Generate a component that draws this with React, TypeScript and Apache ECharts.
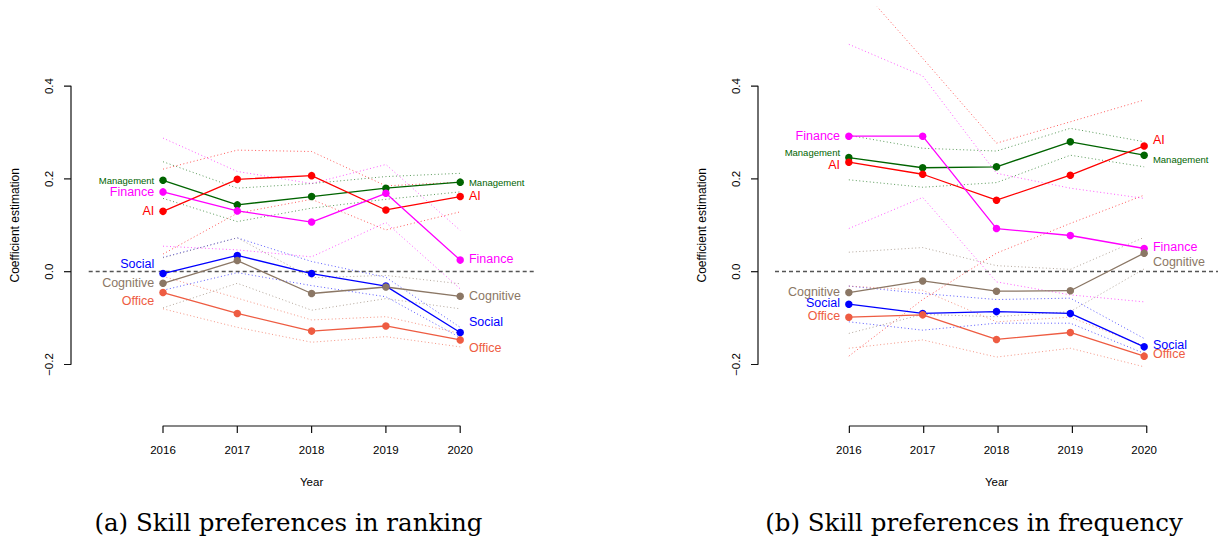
import React, { useEffect, useRef } from "react";
import * as echarts from "echarts";

// ---------------- data ----------------
const years = [2016, 2017, 2018, 2019, 2020];
const yTickValues = [-0.2, 0, 0.2, 0.4];
const skills = ["Management", "AI", "Finance", "Social", "Cognitive", "Office"];

// (a) ranking: estimate, lower, upper
const rankManagement = [0.197, 0.144, 0.162, 0.18, 0.193];
const rankManagementLo = [0.158, 0.108, 0.137, 0.156, 0.172];
const rankManagementHi = [0.237, 0.18, 0.19, 0.205, 0.212];
const rankAI = [0.13, 0.199, 0.207, 0.133, 0.162];
const rankAILo = [0.038, 0.126, 0.156, 0.09, 0.129];
const rankAIHi = [0.221, 0.262, 0.259, 0.185, 0.193];
const rankFinance = [0.172, 0.131, 0.107, 0.169, 0.025];
const rankFinanceLo = [0.055, 0.047, 0.032, 0.106, -0.037];
const rankFinanceHi = [0.288, 0.216, 0.19, 0.231, 0.089];
const rankSocial = [-0.004, 0.035, -0.004, -0.031, -0.131];
const rankSocialLo = [-0.04, -0.002, -0.03, -0.054, -0.142];
const rankSocialHi = [0.031, 0.073, 0.022, -0.012, -0.12];
const rankCognitive = [-0.025, 0.024, -0.047, -0.033, -0.053];
const rankCognitiveLo = [-0.078, -0.025, -0.083, -0.058, -0.08];
const rankCognitiveHi = [0.03, 0.073, -0.013, -0.008, -0.026];
const rankOffice = [-0.045, -0.09, -0.128, -0.117, -0.147];
const rankOfficeLo = [-0.08, -0.12, -0.152, -0.14, -0.162];
const rankOfficeHi = [-0.01, -0.057, -0.104, -0.097, -0.133];

// (b) frequency: estimate, lower, upper
const freqManagement = [0.246, 0.224, 0.226, 0.28, 0.251];
const freqManagementLo = [0.198, 0.182, 0.192, 0.251, 0.226];
const freqManagementHi = [0.294, 0.266, 0.26, 0.309, 0.28];
const freqAI = [0.236, 0.21, 0.154, 0.208, 0.271];
const freqAILo = [-0.182, -0.06, 0.04, 0.104, 0.165];
const freqAIHi = [0.64, 0.46, 0.277, 0.323, 0.37];
const freqFinance = [0.292, 0.292, 0.093, 0.078, 0.05];
const freqFinanceLo = [0.093, 0.16, -0.022, -0.05, -0.065];
const freqFinanceHi = [0.49, 0.422, 0.212, 0.18, 0.158];
const freqSocial = [-0.07, -0.09, -0.086, -0.09, -0.162];
const freqSocialLo = [-0.108, -0.126, -0.111, -0.111, -0.176];
const freqSocialHi = [-0.031, -0.047, -0.06, -0.057, -0.144];
const freqCognitive = [-0.045, -0.02, -0.042, -0.041, 0.04];
const freqCognitiveLo = [-0.133, -0.092, -0.097, -0.086, 0.006];
const freqCognitiveHi = [0.042, 0.052, 0.013, 0.005, 0.074];
const freqOffice = [-0.098, -0.093, -0.146, -0.131, -0.182];
const freqOfficeLo = [-0.165, -0.147, -0.184, -0.165, -0.205];
const freqOfficeHi = [-0.031, -0.04, -0.108, -0.098, -0.16];

const captions = ["(a) Skill preferences in ranking", "(b) Skill preferences in frequency"];

const rankingTable: Record<string, number[][]> = {
  Management: [rankManagement, rankManagementLo, rankManagementHi],
  AI: [rankAI, rankAILo, rankAIHi],
  Finance: [rankFinance, rankFinanceLo, rankFinanceHi],
  Social: [rankSocial, rankSocialLo, rankSocialHi],
  Cognitive: [rankCognitive, rankCognitiveLo, rankCognitiveHi],
  Office: [rankOffice, rankOfficeLo, rankOfficeHi],
};
const frequencyTable: Record<string, number[][]> = {
  Management: [freqManagement, freqManagementLo, freqManagementHi],
  AI: [freqAI, freqAILo, freqAIHi],
  Finance: [freqFinance, freqFinanceLo, freqFinanceHi],
  Social: [freqSocial, freqSocialLo, freqSocialHi],
  Cognitive: [freqCognitive, freqCognitiveLo, freqCognitiveHi],
  Office: [freqOffice, freqOfficeLo, freqOfficeHi],
};

// ---------------- styles / layout ----------------
const COLORS: Record<string, string> = {
  Management: "#006400",
  AI: "#ff0000",
  Finance: "#ff00ff",
  Social: "#0000ff",
  Cognitive: "#8b7765",
  Office: "#ee5c42",
};
const FONT = '"Liberation Sans", Arial, Helvetica, sans-serif';
const W = 1218;
const H = 543;
const X_MIN = 2015;
const X_MAX = 2021;
const Y_MIN = -0.3;
const Y_MAX = 0.57;
const Y_AXIS_OFFSET = 17.5;
const X_AXIS_OFFSET = 15;
const TICK_LEN = 7;

const GRIDS = [
  { left: 88.7, top: 7.2, width: 445.8, height: 403.7 },
  { left: 775.0, top: 7.2, width: 446.1, height: 403.7 },
];
const OVERLAY = 2; // full-page grid used for the R-style axis frames
const CAPTION_POS = [
  [288.5, 522],
  [974, 522],
];

// label vertical offsets in px [start, end]
const LABEL_OFFSETS: Record<string, number[]>[] = [
  {
    Management: [0, 0],
    AI: [0, -1],
    Finance: [0, -1],
    Social: [-10, -10],
    Cognitive: [0, 0],
    Office: [8, 8],
  },
  {
    Management: [-5, 4],
    AI: [3, -6],
    Finance: [0, -1],
    Social: [-1, -2],
    Cognitive: [-1, 9],
    Office: [-1, -2],
  },
];

function buildPanel(table: Record<string, number[][]>, gi: number) {
  const series: any[] = [];
  skills.forEach((s) => {
    const [, lo, hi] = table[s];
    [lo, hi].forEach((arr, k) => {
      series.push({
        type: "line",
        name: `${s}-${k ? "hi" : "lo"}-${gi}`,
        xAxisIndex: gi,
        yAxisIndex: gi,
        data: years.map((y, i) => [y, arr[i]]),
        symbol: "none",
        silent: true,
        z: 2,
        lineStyle: { color: COLORS[s], width: 1, type: [1, 2.5], opacity: 0.65 },
      });
    });
  });
  series.push({
    type: "line",
    xAxisIndex: gi,
    yAxisIndex: gi,
    data: [],
    silent: true,
    markLine: {
      silent: true,
      symbol: "none",
      label: { show: false },
      data: [{ yAxis: 0 }],
      lineStyle: { color: "#555", width: 1.4, type: [4, 3] },
    },
  });
  skills.forEach((s) => {
    const est = table[s][0];
    const offs = LABEL_OFFSETS[gi][s];
    const fs = s === "Management" ? 9.5 : 12.5;
    series.push({
      type: "line",
      name: `${s}-${gi}`,
      xAxisIndex: gi,
      yAxisIndex: gi,
      z: 5,
      symbol: "circle",
      symbolSize: 7.5,
      lineStyle: { color: COLORS[s], width: 1.3 },
      itemStyle: { color: COLORS[s] },
      data: years.map((y, i) => {
        const item: any = { value: [y, est[i]] };
        if (i === 0 || i === years.length - 1) {
          item.label = {
            show: true,
            position: i === 0 ? "left" : "right",
            distance: 5,
            offset: [0, offs[i === 0 ? 0 : 1]],
            formatter: s,
            color: COLORS[s],
            fontSize: fs,
            fontFamily: FONT,
          };
        }
        return item;
      }),
    });
  });
  return series;
}

// pixel position of a value pair on a panel, same linear mapping as its axes
function toPx(gi: number, x: number, y: number) {
  const g = GRIDS[gi];
  return [
    g.left + ((x - X_MIN) / (X_MAX - X_MIN)) * g.width,
    g.top + ((Y_MAX - y) / (Y_MAX - Y_MIN)) * g.height,
  ];
}

// R-style axis frames (only between the end ticks), drawn on the page overlay grid
function axisFrameSeries(gi: number) {
  const seg = (pts: number[][]) => ({
    type: "line",
    xAxisIndex: OVERLAY,
    yAxisIndex: OVERLAY,
    data: pts,
    symbol: "none",
    silent: true,
    lineStyle: { color: "#111", width: 1.2 },
  });
  const out: any[] = [];
  const bl = toPx(gi, years[0], Y_MIN);
  const br = toPx(gi, years[years.length - 1], Y_MIN);
  const ay = Math.round(bl[1] + X_AXIS_OFFSET);
  out.push(seg([[bl[0], ay + TICK_LEN], [bl[0], ay], [br[0], ay], [br[0], ay + TICK_LEN]]));
  years.slice(1, -1).forEach((yr) => {
    const c = toPx(gi, yr, Y_MIN);
    out.push(seg([[c[0], ay], [c[0], ay + TICK_LEN]]));
  });
  const yb = toPx(gi, X_MIN, yTickValues[0]);
  const yt = toPx(gi, X_MIN, yTickValues[yTickValues.length - 1]);
  const ax = Math.round(yb[0] - Y_AXIS_OFFSET);
  out.push(seg([[ax - TICK_LEN, yt[1]], [ax, yt[1]], [ax, yb[1]], [ax - TICK_LEN, yb[1]]]));
  yTickValues.slice(1, -1).forEach((v) => {
    const c = toPx(gi, X_MIN, v);
    out.push(seg([[ax - TICK_LEN, c[1]], [ax, c[1]]]));
  });
  return out;
}

function yTitle(gi: number) {
  const yb = toPx(gi, X_MIN, yTickValues[0]);
  const ym = toPx(gi, X_MIN, (yTickValues[0] + yTickValues[yTickValues.length - 1]) / 2);
  const ax = Math.round(yb[0] - Y_AXIS_OFFSET);
  return {
    type: "text",
    x: ax - 56,
    y: ym[1],
    rotation: Math.PI / 2,
    style: {
      text: "Coefficient estimation",
      align: "center",
      verticalAlign: "middle",
      font: `12px ${FONT}`,
      fill: "#000",
    },
  };
}

const fmtY = (v: number) => {
  const s = Math.abs(v) < 1e-9 ? "0.0" : v.toFixed(1);
  return s.replace("-", "\u2212");
};

export default function App() {
  const ref = useRef<HTMLDivElement>(null);
  useEffect(() => {
    if (!ref.current) return;
    const chart = echarts.init(ref.current, null, { renderer: "svg" });
    const xAxes: any[] = GRIDS.map((_, gi) => ({
      type: "value",
      gridIndex: gi,
      min: X_MIN,
      max: X_MAX,
      offset: X_AXIS_OFFSET,
      name: "Year",
      nameLocation: "middle",
      nameGap: 50,
      nameTextStyle: { fontFamily: FONT, fontSize: 11.5, color: "#000" },
      axisLine: { show: false },
      splitLine: { show: false },
      axisTick: { show: false },
      axisLabel: {
        customValues: years,
        margin: 18,
        fontFamily: FONT,
        fontSize: 11.5,
        color: "#000",
        formatter: (v: number) => String(Math.round(v)),
      },
    }));
    const yAxes: any[] = GRIDS.map((_, gi) => ({
      type: "value",
      gridIndex: gi,
      min: Y_MIN,
      max: Y_MAX,
      offset: Y_AXIS_OFFSET,
      axisLine: { show: false },
      splitLine: { show: false },
      axisTick: { show: false },
      axisLabel: {
        customValues: yTickValues,
        rotate: 90,
        margin: 16,
        fontFamily: FONT,
        fontSize: 11.5,
        color: "#000",
        formatter: fmtY,
      },
    }));
    // overlay page grid (pixel units)
    xAxes.push({ type: "value", gridIndex: OVERLAY, min: 0, max: W, show: false });
    yAxes.push({ type: "value", gridIndex: OVERLAY, min: 0, max: H, inverse: true, show: false });

    const captionEls: any[] = captions.map((c, i) => ({
      type: "text",
      x: CAPTION_POS[i][0],
      y: CAPTION_POS[i][1],
      style: {
        text: c,
        align: "center",
        verticalAlign: "middle",
        font: '24.5px "DejaVu Serif", serif',
        fill: "#000",
      },
    }));
    const option: any = {
      animation: false,
      textStyle: { fontFamily: FONT },
      grid: [
        ...GRIDS.map((g) => ({ ...g, containLabel: false })),
        { left: 0, top: 0, width: W, height: H, containLabel: false },
      ],
      xAxis: xAxes,
      yAxis: yAxes,
      graphic: [...captionEls, yTitle(0), yTitle(1)],
      series: [
        ...buildPanel(rankingTable, 0),
        ...buildPanel(frequencyTable, 1),
        ...axisFrameSeries(0),
        ...axisFrameSeries(1),
      ],
    };
    chart.setOption(option);
    return () => chart.dispose();
  }, []);
  return (
    <div
      ref={ref}
      style={{ position: "absolute", left: 0, top: 0, width: W, height: H, background: "#fff" }}
    />
  );
}
